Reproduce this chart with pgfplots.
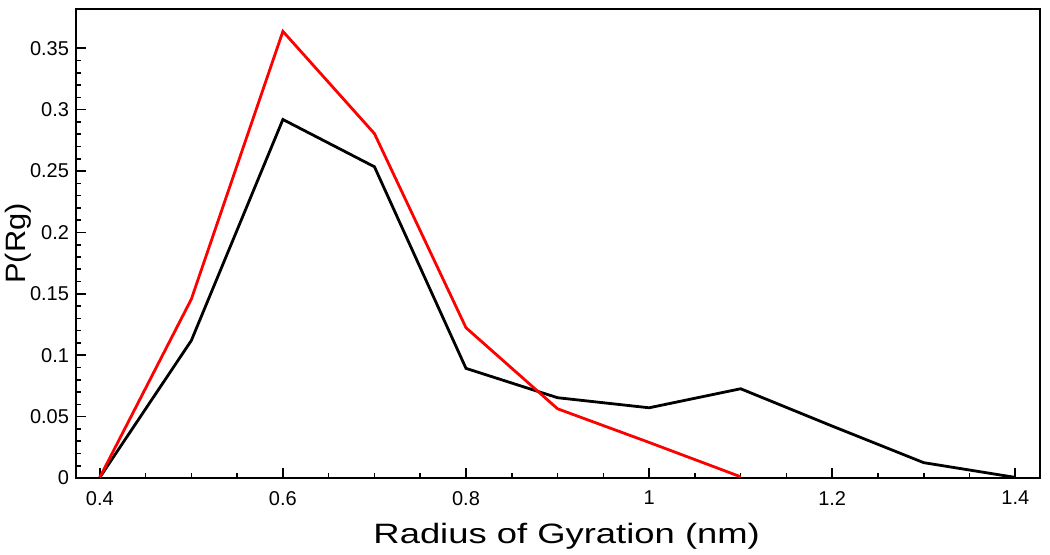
\documentclass[border=0pt]{standalone}
\usepackage{pgfplots}
\pgfplotsset{compat=1.18}
\usepackage{fontspec}
\setmainfont{Liberation Sans}
\newfontfamily\xlabfont[FakeStretch=1.3]{Liberation Sans}
\newfontfamily\ylabfont[FakeStretch=1.1]{Liberation Sans}
\usetikzlibrary{calc}
\begin{document}
\begin{tikzpicture}
\begin{axis}[
  scale only axis,
  width=482pt, height=234.5pt,
  xmin=0.374, xmax=1.427,
  ymin=0, ymax=0.382,
  xtick={0.4,0.6,0.8,1,1.2,1.4},
  ytick={0,0.05,0.1,0.15,0.2,0.25,0.3,0.35},
  minor x tick num=3,
  minor y tick num=4,
  tick align=inside,
  tick pos=left,
  major tick length=5pt,
  minor tick length=2.5pt,
  every tick/.style={black, line width=0.8pt},
  axis line style={line width=1pt},
  /pgf/number format/assume math mode=true,
  yticklabel style={/pgf/number format/fixed, /pgf/number format/precision=2, font=\fontsize{10}{12}\selectfont},
  xticklabel style={/pgf/number format/fixed, font=\fontsize{10}{12}\selectfont, yshift=-3pt},
  scaled y ticks=false,
  xlabel={\xlabfont Radius of Gyration (nm)},
  ylabel={\ylabfont P(Rg)},
  label style={font=\fontsize{14}{16}\selectfont},
  xlabel style={at={(axis description cs:0.509,-0.1386)}, anchor=base},
  ylabel style={at={(axis description cs:-0.0529,0.5)}, anchor=base},
]
\addplot[black, line width=1.4pt] coordinates {
(0.4,0.0005) (0.5,0.112) (0.6,0.292) (0.7,0.2535) (0.8,0.0893) (0.9,0.0654)
(1.0,0.0572) (1.1,0.0727) (1.2,0.0423) (1.3,0.0125) (1.4,0.0005)};
\addplot[red, line width=1.4pt] coordinates {
(0.4,0.0005) (0.5,0.1457) (0.6,0.3638) (0.7,0.2805) (0.8,0.1224) (0.9,0.0564)
(1.0,0.029) (1.1,0.001)};
\end{axis}
\pgfresetboundingbox
\useasboundingbox ($(current axis.south west)+(-38pt,-38pt)$) rectangle ($(current axis.north east)+(5pt,4.5pt)$);
\end{tikzpicture}
\end{document}
